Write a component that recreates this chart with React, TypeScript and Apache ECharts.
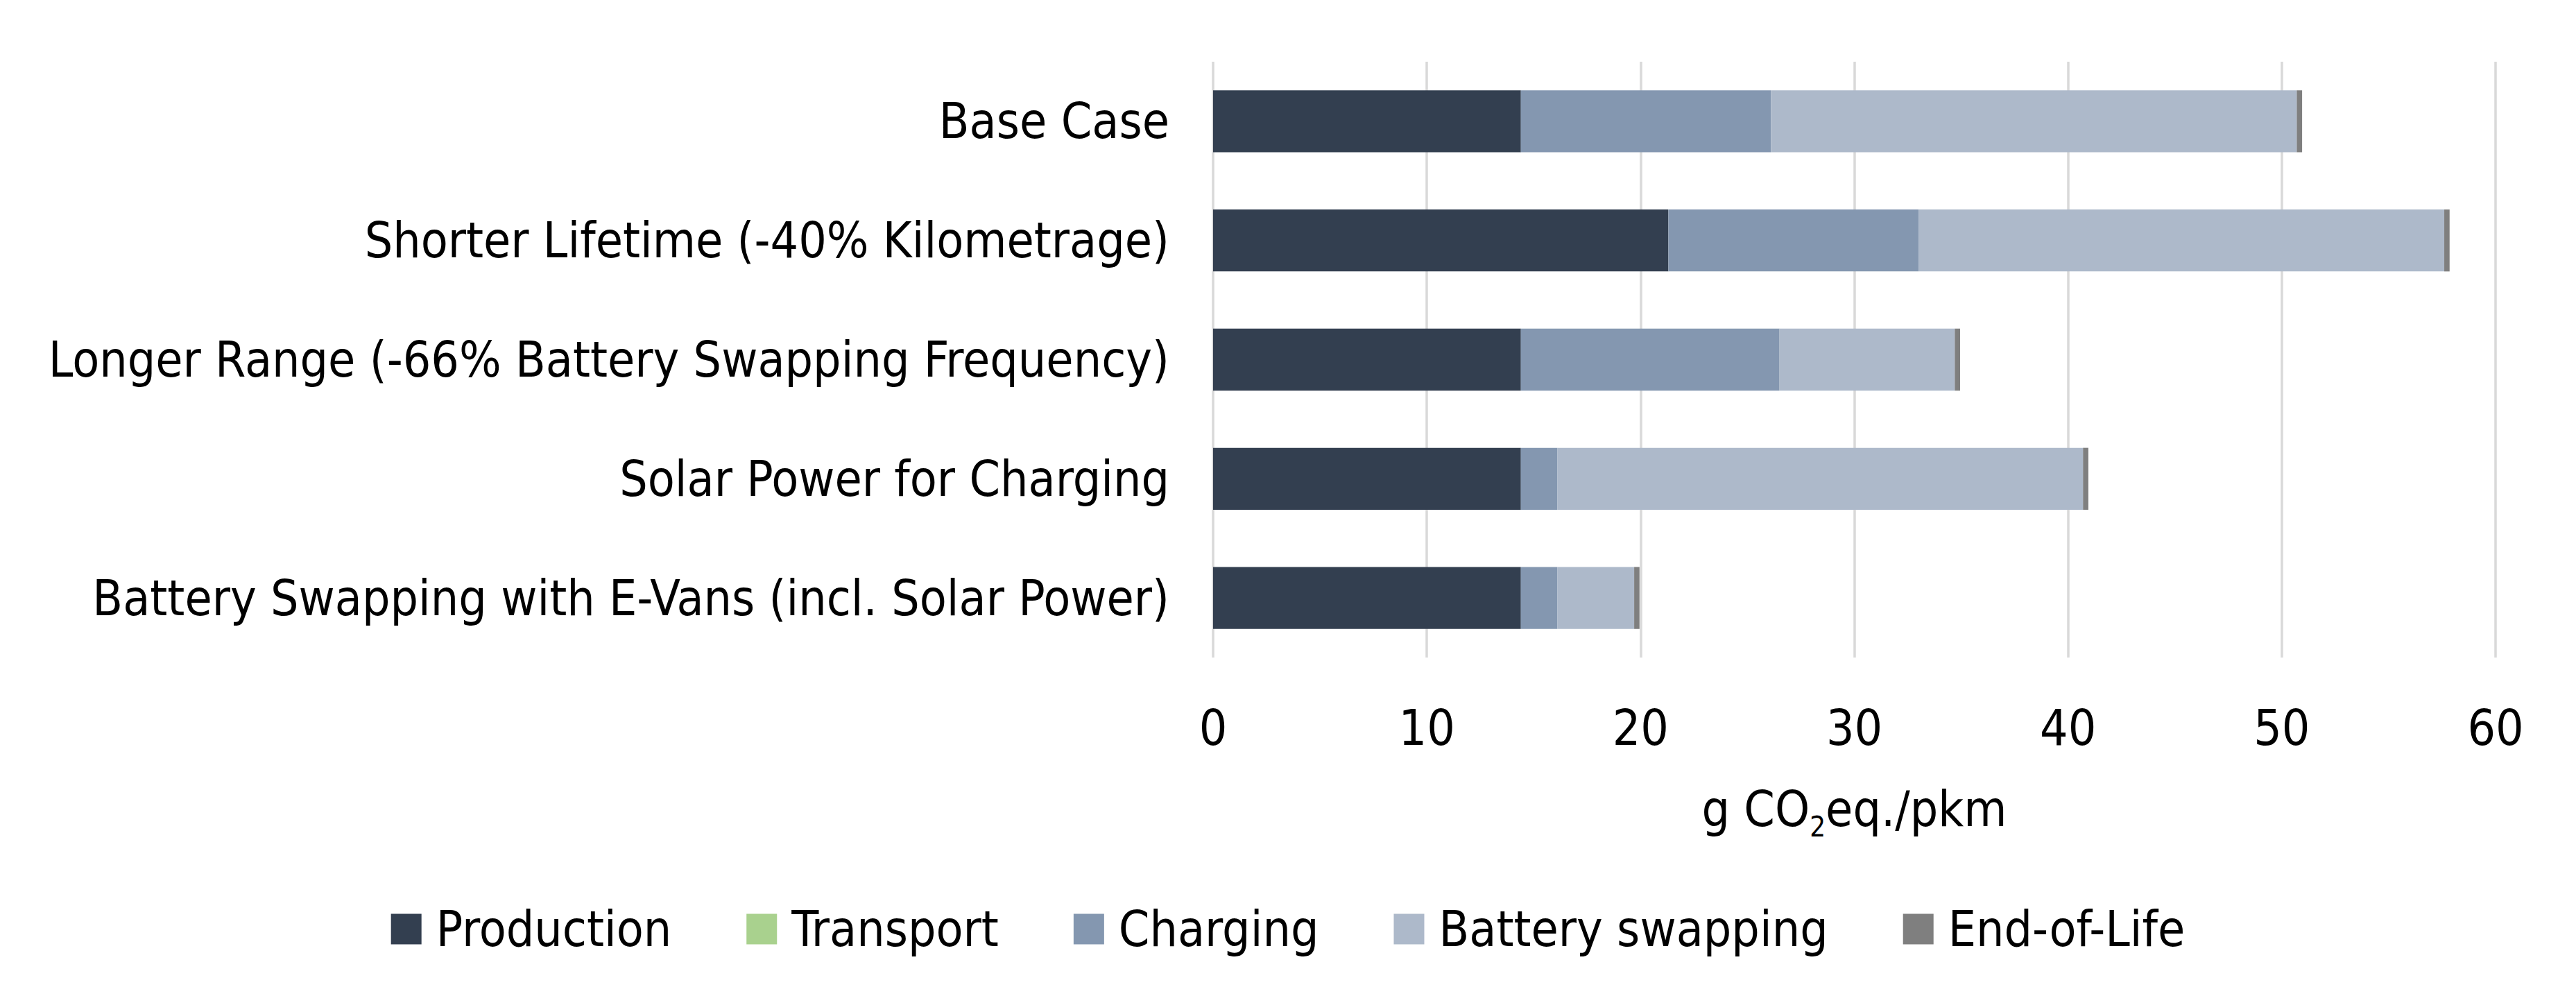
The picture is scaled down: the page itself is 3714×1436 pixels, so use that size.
import React, { useEffect, useRef } from "react";
import * as echarts from "echarts";

const categories = [
  "Base Case",
  "Shorter Lifetime (-40% Kilometrage)",
  "Longer Range (-66% Battery Swapping Frequency)",
  "Solar Power for Charging",
  "Battery Swapping with E-Vans (incl. Solar Power)",
];

const production = [14.4, 21.3, 14.4, 14.4, 14.4];
const transport = [0, 0, 0, 0, 0];
const charging = [11.7, 11.7, 12.1, 1.7, 1.7];
const batterySwapping = [24.6, 24.6, 8.2, 24.6, 3.6];
const endOfLife = [0.25, 0.25, 0.25, 0.25, 0.25];

const seriesNames = ["Production", "Transport", "Charging", "Battery swapping", "End-of-Life"];
const seriesColors = ["#333F50", "#A9D18E", "#8497B0", "#ADB9CA", "#7F7F7F"];
const seriesData = [production, transport, charging, batterySwapping, endOfLife];

const xTicks = { min: 0, max: 60, interval: 10 };

const FONT = '"DejaVu Sans Condensed", "DejaVu Sans", sans-serif';
const FS = 71;

export default function App() {
  const ref = useRef<HTMLDivElement>(null);

  useEffect(() => {
    document.body.style.margin = "0";
    if (!ref.current) return;
    const chart = echarts.init(ref.current, undefined, { renderer: "svg" });
    chart.setOption({
      animation: false,
      backgroundColor: "#ffffff",
      textStyle: { fontFamily: FONT },
      grid: {
        left: 1749,
        right: 116,
        top: 89,
        bottom: 488,
        containLabel: false,
        outerBoundsMode: "none",
      },
      legend: {
        data: seriesNames,
        top: 1299,
        left: "center",
        icon: "rect",
        itemWidth: 44,
        itemHeight: 44,
        itemGap: 108,
        textStyle: { fontSize: FS, color: "#000000", fontFamily: FONT, padding: [0, 0, 0, 16] },
      },
      xAxis: {
        type: "value",
        min: xTicks.min,
        max: xTicks.max,
        interval: xTicks.interval,
        axisLine: { show: false },
        axisTick: { show: false },
        axisLabel: { fontSize: FS, color: "#000000", margin: 66, fontFamily: FONT },
        splitLine: { show: true, lineStyle: { color: "#D9D9D9", width: 3.5 } },
        name: "{a|g CO}{b|2}{a|eq./pkm}",
        nameLocation: "middle",
        nameGap: 170,
        nameTextStyle: {
          fontFamily: FONT,
          rich: {
            a: { fontSize: FS, lineHeight: 84, color: "#000000", fontFamily: FONT, verticalAlign: "bottom" },
            b: { fontSize: 40, lineHeight: 40, color: "#000000", fontFamily: FONT, verticalAlign: "bottom", padding: [0, 0, -10, 0] },
          },
        },
      },
      yAxis: {
        type: "category",
        data: categories,
        inverse: true,
        axisLine: { show: false },
        axisTick: { show: false },
        axisLabel: { fontSize: FS, color: "#000000", margin: 63, fontFamily: FONT },
        splitLine: { show: false },
      },
      series: seriesNames.map((name, i) => ({
        name,
        type: "bar",
        stack: "total",
        data: seriesData[i],
        barCategoryGap: "48%",
        itemStyle: { color: seriesColors[i] },
      })),
    });
    return () => chart.dispose();
  }, []);

  return <div ref={ref} style={{ width: 3714, height: 1436 }} />;
}
